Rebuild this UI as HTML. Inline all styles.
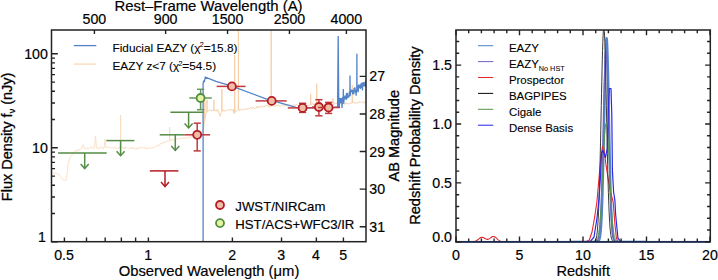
<!DOCTYPE html>
<html><head><meta charset="utf-8"><style>
html,body{margin:0;padding:0;background:#fff;}
svg{display:block;}
</style></head><body>
<svg width="718" height="280" viewBox="0 0 718 280">
<rect width="718" height="280" fill="#fff"/>
<defs><clipPath id="cl"><rect x="51.5" y="30.0" width="314.5" height="211.7"/></clipPath>
<clipPath id="cr"><rect x="456" y="30" width="254.3" height="211.7"/></clipPath></defs>
<g clip-path="url(#cl)"><polyline fill="none" stroke="#f9dcc1" stroke-width="0.9" points="51.5,173 52.3,173.05 53.1,173.11 53.9,173.16 54.7,173.21 55.5,173.27 56.3,173.42 57.1,173.74 57.9,174.06 58.7,174.38 59.5,175.2 60.3,176.32 61.1,177.44 61.9,178.53 62.7,179.6 63.5,180.08 64.3,180.22 65.1,180.35 65.9,180.48 66.7,176.65 67.5,169.5 68.3,163.03 69.1,160.43 69.9,157.83 70.7,156.05 71.5,155.72 72.3,154.34 73.1,153.85 73.9,152.9 74.7,151.11 75.5,150.49 76.3,151.8 77.1,150.03 77.9,149.48 78.7,150.74 79.5,149.18 80.3,149.59 81.1,148.45 81.7,148.5 83.2,144.5 84.7,148.5 85.1,148.55 85.9,149.03 86.7,148.88 87.5,147.54 88.3,148.99 89.1,148.43 89.9,147.59 90.7,146.79 91.5,148.43 92.3,147.46 93.1,148.05 93.9,148.45 94.5,147.72 95.5,136 96.5,147.72 97.1,148.48 97.9,147.75 98.7,148.88 99.5,148.8 100.3,147.11 101.1,147.2 101.9,147.38 102.7,149.02 103.5,147.86 104,148 105,139 106,148 106.7,147.41 107.5,147.17 108.3,147.53 109.1,147.37 109.9,147.91 110.7,147.47 111.5,148.09 112.3,148.01 113.1,148.39 113.9,147.77 114.7,146.73 115.5,148.32 116.3,148.58 117.1,148.49 117.9,147.79 118.7,148.14 119.5,147.07 120.3,148.48 120.4,147.76 120.6,115 120.8,147.76 121.1,147.95 121.9,147.35 122.7,146.9 123.5,148.68 124.3,149.01 125.1,147.07 125.9,148.67 126.7,147.85 127.5,147.32 128.3,147.67 129.1,148.75 129.9,149.02 130.7,147.19 131.5,148.44 132.3,147.18 133.1,148.65 133.9,147.79 134.7,148.99 135.5,149.2 136.3,148.15 137.1,149.23 137.9,147.7 138.7,147.18 139.5,148.32 140.3,147.07 141.1,147.42 141.9,147.88 142.7,148.32 143.5,147.31 144.3,147.05 145.1,148.86 145.9,147.63 146.7,149.04 147.5,148.9 148.3,147.75 149.1,147.92 149.9,148.05 150.7,148.18 151.5,147.91 152.3,147.67 153.1,147.64 153.9,148.19 154.7,147.08 155.5,146.6 156.3,146.83 157.1,145.37 157.9,145.11 158.7,146.2 159.5,144.8 160.3,144.48 161.1,142.94 161.9,143.48 162.7,143.49 163.5,141.91 164.3,142.87 165.1,142.56 165.9,140.95 166.7,141.85 167.5,141.14 168.3,141.33 169.1,140.45 169.5,140.65 169.7,127 169.9,141.06 169.9,140.65 170.7,140.96 171.5,139.22 172.3,139.14 173.1,140.32 173.9,140.79 174.7,139.06 175.5,139.34 176.3,139.47 177.1,138.71 177.9,138.64 178.7,138.36 179.5,138.32 180.3,138.68 181.1,137.95 181.9,138.04 182.7,138.83 183.5,137.11 184.3,138.22 185.1,138.51 185.9,137.49 186.7,137.22 187.5,138.42 188.3,137.1 189.1,136.9 189.9,137.37 190.7,137.8 191.5,136.32 192.3,136.65 193.1,136.51 193.9,137.45 194.7,136.42 195.5,137.18 196.3,135.51 197.1,135.72 197.9,136.25 198.7,136.61 199.5,135.49 200.3,134.6 201.1,133.57 201.9,133.67 202.7,131.12"/><polyline fill="none" stroke="#f5d0a8" stroke-width="0.95" points="202.7,131.12 203.5,127.67 204.3,123.09 204.6,119.6 204.8,101 205,119.6 205.1,117.25 205.9,113.06 206.7,112.8 206.8,111.75 207,99.8 207.2,111.75 207.5,111.44 208.3,111.17 209.1,110.16 209.9,109.69 210.7,110.04 211.5,111.15 212.3,110 213.1,110.16 213.7,110.5 213.9,99.8 214.1,110.5 214.7,110.32 215.5,110.3 216.3,111.43 217.1,109.74 217.9,109.41 218.7,112.93 219.5,114.46 220.3,116.36 221.1,112.17 221.7,110.48 221.9,89 222.1,110.48 222.7,111.39 223.5,109.8 224.3,110.92 225.1,111.08 225.9,110.67 226.7,110.32 227.5,109.78 228.3,109.85 229.1,109.57 229.9,109.18 230.7,110.3 231.5,109.6 232.3,110.71 233.1,109.31 233.9,113.66 234.5,112.67 234.7,55 234.9,112.67 235.5,110.93 236.3,110.87 237.1,110.88 237.9,110.17 238.2,110 238.4,25 238.6,110 238.7,108.93 239.5,110.54 240.3,109.23 241.1,109.38 241.9,110.04 242.7,109.6 243.5,109.23 244.3,110.25 245.1,109.4 245.9,108.67 246.7,108.34 247.5,109.55 248.3,108.57 249.1,109.1 249.9,108.02 250.7,107.55 251.5,108.16 252.3,108.65 253.1,107.09 253.9,108.33 254.7,108.48 255.5,108.12 256.3,108.08 257.1,106.21 257.9,107.49 258.7,107.93 259.5,106.06 260.3,106.47 261.1,106.38 261.9,106.87 262.7,106.56 263.5,106.59 264.3,107.18 265.1,105.4 265.9,105.48 266.7,105.59 267.5,105.55 268.3,105.39 269.1,107.34 269.9,107.03 270.7,105.3 271,106.19 271.2,25 271.4,106.19 271.5,106.18 272.3,105.73 273.1,105.69 273.9,105.73 274.7,106.34 275.5,106.17 276.3,105.63 277.1,105.22 277.9,105.48 278.7,104.99 279.5,105.9 280.3,106.21 281.1,105.43 281.9,104.73 282.7,104.91 283.5,105.3 284.3,105.76 285.1,106.12 285.9,105.21 286.7,106.11 287.5,105.69 288.3,105.24 289.1,105.08 289.9,105.33 290.7,105.76 291.5,105.11 292.3,105.68 293.1,105.14 293.9,104.64 294.7,105.26 295.5,105.58 296.3,104.18 297.1,104.93 297.9,104.91 298.7,105.88 299.5,105.98 300.3,104.72 301.1,105.85 301.9,105.59 302.7,104.41 303.5,104.83 304.3,104.06 305.1,105.56 305.9,105.21 306.7,105.68 307.5,105.46 308.3,105.16 309.1,105.29 309.9,104.89 310.5,104.73 310.7,94 310.9,104.73 311.5,104.91 312.3,103.6 313.1,103.89 313.9,105.26 314.7,103.63 315.5,103.71 316.3,103.71 316.5,104.58 316.7,83.6 316.9,104.58 317.1,105.41 317.9,103.85 318.7,103.48 319.5,105.26 320.3,103.65 321.1,105.21 321.9,104.81 322.7,105.13 323.5,105.36 324.3,104.5 325.1,104.95 325.9,103.24 326.7,104.82 327.5,104.22 328.3,104.64 329.1,103.27 329.9,104.65 330.7,105.03 331.5,103.07 332.3,103.62 332.8,103.98 333,98.5 333.2,103.98 333.9,104.67 334.7,103.34 335.5,103.18 336.3,103.3 337.1,104.07 337.9,104.34 338.7,103.52 339.5,103.43 340.3,103.46 341.1,103.33 341.9,103.44 342.7,102.68 343.5,103.56 344.3,104.57 345.1,103.3 345.9,103.98 346.7,102.64 347.5,103.75 348.3,103.84 349.1,103.61 349.9,103.21 350.7,103.08 351.5,103.38 352.1,103.01 352.3,85 352.5,103.01 353.1,102.19 353.9,102.02 354.7,103.4 355.5,103.72 356.3,102.78 357.1,102.57 357.9,103.12 358.7,101.9 359.5,102.02 360.3,101.81 361.1,102.6 361.9,101.93 362.7,101.69 363.5,102.63 364.3,103.14 365.1,101.63 365.9,102.46"/></g>
<g clip-path="url(#cl)"><polyline fill="none" stroke="#5283cb" stroke-width="1.3" stroke-linejoin="miter" stroke-miterlimit="2" points="203.1,245 203.1,84 203.6,80.5 204.3,82 205.3,77.1 216,81.4 231.9,86.1 266,98.8 296,107.4 320,107.8 334,107.5 337.6,107 338.2,36 338.8,108 339,100.87 339.3,107.75 339.6,101.8 339.9,98.52 340.2,98.18 340.5,103.17 340.8,100.22 341.1,98.08 341.4,101.09 341.7,100.55 342,107.89 342.3,101.92 342.6,97.13 342.9,97.97 343.2,98.98 343.3,89 343.4,98.98 343.2,96.93 343.2,98.76 343.3,89 343.4,98.76 343.5,99.65 343.8,103.85 344.1,95.51 344.4,99.27 344.7,96.71 345,97.38 345.3,99.35 345.6,95.61 345.9,97.19 346.2,98.28 346.4,96.6 346.5,93 346.6,96.6 346.5,99.67 346.8,95.86 347.1,93.94 347.4,93 347.7,97.43 348,97.92 348.3,96.55 348.6,95.6 348.9,97.05 349.2,94.49 349.5,91.63 349.9,94.22 350,75.6 350.1,94.22 349.8,95.17 349.9,94.01 350,75.6 350.1,94.01 350.1,96.07 350.4,93.06 350.7,90.52 351,91.24 351.3,90.32 351.6,90.56 351.9,92.01 352.2,89.81 352.5,92.6 352.8,94.11 353.1,90.43 353.4,90.73 353.7,94.35 354,89.13 354.3,89.28 354.6,91.34 354.9,87.38 355.2,89.5 355.5,93.02 355.8,90 356.1,95.82 356.4,92.03 356.8,89.26 356.9,53.8 357,89.26 356.7,91.65 356.8,89.04 356.9,53.8 357,89.04 357,88.35 357.3,86.29 357.6,90.81 357.9,86.53 358.2,92.15 358.5,84.76 358.8,85.19 359.1,84.49 359.4,88.04 359.7,85.51 360,86.01 360.3,88.9 360.6,86.23 360.9,83.58 361.2,85.01 361.5,87.9 361.8,82.53 362.1,85.55 362.4,90.43 362.7,85.12 363,87.05 363.3,82.98 363.6,82.16 363.9,84.28 364.2,82.77 364.5,85.63 364.8,85.68 365.1,85.25 365.4,81.24 365.7,86.85 366,79.54 366.3,80.8 366.6,85.05 366.9,84.71"/></g>
<g stroke="#558d45" stroke-width="1.5" fill="none"><line x1="58.1" y1="152.9" x2="106.7" y2="152.9"/><line x1="84.7" y1="152.9" x2="84.7" y2="168.5"/><polyline points="80.7,164 84.7,168.5 88.7,164"/></g>
<g stroke="#558d45" stroke-width="1.5" fill="none"><line x1="106.3" y1="140.6" x2="134.3" y2="140.6"/><line x1="120.6" y1="140.6" x2="120.6" y2="155.7"/><polyline points="116.6,151.2 120.6,155.7 124.6,151.2"/></g>
<g stroke="#558d45" stroke-width="1.5" fill="none"><line x1="159.7" y1="134.8" x2="184.3" y2="134.8"/><line x1="175.3" y1="134.8" x2="175.3" y2="150.4"/><polyline points="171.3,145.9 175.3,150.4 179.3,145.9"/></g>
<g stroke="#558d45" stroke-width="1.5" fill="none"><line x1="170.4" y1="112.2" x2="203.6" y2="112.2"/><line x1="188.6" y1="112.2" x2="188.6" y2="127.9"/><polyline points="184.6,123.4 188.6,127.9 192.6,123.4"/></g>
<g stroke="#b51d25" stroke-width="1.5" fill="none"><line x1="149.8" y1="170.9" x2="178.4" y2="170.9"/><line x1="165.0" y1="170.9" x2="165.0" y2="186.6"/><polyline points="161,182.1 165.0,186.6 169,182.1"/></g>
<g stroke="#64985a" stroke-width="1.5" fill="none"><line x1="189.3" y1="98.0" x2="211.8" y2="98.0"/><line x1="200.6" y1="89.3" x2="200.6" y2="109.7"/><line x1="197.0" y1="89.3" x2="204.2" y2="89.3"/><line x1="197.0" y1="109.7" x2="204.2" y2="109.7"/><circle cx="200.6" cy="98.0" r="4.0" fill="#e4f4a2" stroke="#558d45" stroke-width="1.8"/></g>
<g stroke="#c03a40" stroke-width="1.5" fill="none"><line x1="184.3" y1="134.8" x2="210.1" y2="134.8"/><line x1="197.2" y1="123.2" x2="197.2" y2="150.9"/><line x1="193.6" y1="123.2" x2="200.79999999999998" y2="123.2"/><line x1="193.6" y1="150.9" x2="200.79999999999998" y2="150.9"/><circle cx="197.2" cy="134.8" r="4.0" fill="#f0bea6" stroke="#b51d25" stroke-width="1.8"/></g>
<g stroke="#c03a40" stroke-width="1.5" fill="none"><line x1="216.6" y1="86.4" x2="245.6" y2="86.4"/><circle cx="231.9" cy="86.4" r="4.0" fill="#f0bea6" stroke="#b51d25" stroke-width="1.8"/></g>
<g stroke="#c03a40" stroke-width="1.5" fill="none"><line x1="255.6" y1="100.9" x2="286.7" y2="100.9"/><circle cx="271.7" cy="100.9" r="4.0" fill="#f0bea6" stroke="#b51d25" stroke-width="1.8"/></g>
<g stroke="#c03a40" stroke-width="1.5" fill="none"><line x1="287.8" y1="107.9" x2="317.0" y2="107.9"/><line x1="302.6" y1="103.3" x2="302.6" y2="112.4"/><line x1="299.0" y1="103.3" x2="306.20000000000005" y2="103.3"/><line x1="299.0" y1="112.4" x2="306.20000000000005" y2="112.4"/><circle cx="302.6" cy="107.9" r="4.0" fill="#f0bea6" stroke="#b51d25" stroke-width="1.8"/></g>
<g stroke="#c03a40" stroke-width="1.5" fill="none"><line x1="312.0" y1="107.0" x2="326.0" y2="107.0"/><line x1="318.9" y1="99.7" x2="318.9" y2="115.8"/><line x1="315.29999999999995" y1="99.7" x2="322.5" y2="99.7"/><line x1="315.29999999999995" y1="115.8" x2="322.5" y2="115.8"/><circle cx="318.9" cy="107.0" r="4.0" fill="#f0bea6" stroke="#b51d25" stroke-width="1.8"/></g>
<g stroke="#c03a40" stroke-width="1.5" fill="none"><line x1="318.0" y1="107.5" x2="340.0" y2="107.5"/><line x1="328.6" y1="102.4" x2="328.6" y2="113.4"/><line x1="325.0" y1="102.4" x2="332.20000000000005" y2="102.4"/><line x1="325.0" y1="113.4" x2="332.20000000000005" y2="113.4"/><circle cx="328.6" cy="107.5" r="4.0" fill="#f0bea6" stroke="#b51d25" stroke-width="1.8"/></g>
<rect x="51.5" y="30.0" width="314.5" height="211.7" fill="none" stroke="#222" stroke-width="1.5"/>
<path d="M51.5 241.8h6.3 M51.5 213.5h3.5 M51.5 196.95h3.5 M51.5 185.21h3.5 M51.5 176.1h3.5 M51.5 168.65h3.5 M51.5 162.36h3.5 M51.5 156.91h3.5 M51.5 152.1h3.5 M51.5 147.8h6.3 M51.5 119.5h3.5 M51.5 102.95h3.5 M51.5 91.21h3.5 M51.5 82.1h3.5 M51.5 74.65h3.5 M51.5 68.36h3.5 M51.5 62.91h3.5 M51.5 58.1h3.5 M51.5 53.8h6.3 M64.41 241.7v-4.2 M86.5 241.7v-4.2 M105.18 241.7v-4.2 M121.36 241.7v-4.2 M135.63 241.7v-4.2 M148.4 241.7v-4.2 M232.39 241.7v-4.2 M281.52 241.7v-4.2 M316.37 241.7v-4.2 M343.41 241.7v-4.2 M94.42 30.0v4 M165.64 30.0v4 M227.54 30.0v4 M289.43 30.0v4 M346.38 30.0v4 M366.0 76.36h-6.3 M366.0 113.96h-6.3 M366.0 151.56h-6.3 M366.0 189.16h-6.3 M366.0 226.76h-6.3" stroke="#222" stroke-width="1.4" fill="none"/>
<text x="47.9" y="59" font-size="14.2" text-anchor="end" font-family="Liberation Sans, sans-serif" stroke="#000" stroke-width="0.18" >100</text>
<text x="47.9" y="153" font-size="14.2" text-anchor="end" font-family="Liberation Sans, sans-serif" stroke="#000" stroke-width="0.18" >10</text>
<text x="46" y="241.7" font-size="14.2" text-anchor="end" font-family="Liberation Sans, sans-serif" stroke="#000" stroke-width="0.18" >1</text>
<text x="64.11" y="260.1" font-size="14.2" text-anchor="middle" font-family="Liberation Sans, sans-serif" stroke="#000" stroke-width="0.18" >0.5</text>
<text x="148.1" y="260.1" font-size="14.2" text-anchor="middle" font-family="Liberation Sans, sans-serif" stroke="#000" stroke-width="0.18" >1</text>
<text x="232.09" y="260.1" font-size="14.2" text-anchor="middle" font-family="Liberation Sans, sans-serif" stroke="#000" stroke-width="0.18" >2</text>
<text x="281.22" y="260.1" font-size="14.2" text-anchor="middle" font-family="Liberation Sans, sans-serif" stroke="#000" stroke-width="0.18" >3</text>
<text x="316.07" y="260.1" font-size="14.2" text-anchor="middle" font-family="Liberation Sans, sans-serif" stroke="#000" stroke-width="0.18" >4</text>
<text x="343.11" y="260.1" font-size="14.2" text-anchor="middle" font-family="Liberation Sans, sans-serif" stroke="#000" stroke-width="0.18" >5</text>
<text x="209" y="275.7" font-size="14.8" text-anchor="middle" font-family="Liberation Sans, sans-serif" stroke="#000" stroke-width="0.18" >Observed Wavelength (&#956;m)</text>
<text x="94.42" y="24" font-size="14.2" text-anchor="middle" font-family="Liberation Sans, sans-serif" stroke="#000" stroke-width="0.18" >500</text>
<text x="165.64" y="24" font-size="14.2" text-anchor="middle" font-family="Liberation Sans, sans-serif" stroke="#000" stroke-width="0.18" >900</text>
<text x="227.54" y="24" font-size="14.2" text-anchor="middle" font-family="Liberation Sans, sans-serif" stroke="#000" stroke-width="0.18" >1500</text>
<text x="289.43" y="24" font-size="14.2" text-anchor="middle" font-family="Liberation Sans, sans-serif" stroke="#000" stroke-width="0.18" >2500</text>
<text x="346.38" y="24" font-size="14.2" text-anchor="middle" font-family="Liberation Sans, sans-serif" stroke="#000" stroke-width="0.18" >4000</text>
<text x="208.5" y="11.3" font-size="14.9" text-anchor="middle" font-family="Liberation Sans, sans-serif" stroke="#000" stroke-width="0.18" >Rest&#8211;Frame Wavelength (A)</text>
<text x="369.3" y="81.36" font-size="14.2" text-anchor="start" font-family="Liberation Sans, sans-serif" stroke="#000" stroke-width="0.18" >27</text>
<text x="369.3" y="118.96" font-size="14.2" text-anchor="start" font-family="Liberation Sans, sans-serif" stroke="#000" stroke-width="0.18" >28</text>
<text x="369.3" y="156.56" font-size="14.2" text-anchor="start" font-family="Liberation Sans, sans-serif" stroke="#000" stroke-width="0.18" >29</text>
<text x="369.3" y="194.16" font-size="14.2" text-anchor="start" font-family="Liberation Sans, sans-serif" stroke="#000" stroke-width="0.18" >30</text>
<text x="369.3" y="231.76" font-size="14.2" text-anchor="start" font-family="Liberation Sans, sans-serif" stroke="#000" stroke-width="0.18" >31</text>
<text transform="translate(11.8,201.2) rotate(-90)" font-size="14.5" font-family="Liberation Sans, sans-serif" stroke="#000" stroke-width="0.3">Flux Density f<tspan font-size="9" dy="3">&#957;</tspan><tspan dy="-3"> (nJy)</tspan></text>
<text transform="translate(399.0,181.6) rotate(-90)" font-size="14.6" font-family="Liberation Sans, sans-serif" stroke="#000" stroke-width="0.3">AB Magnitude</text>
<text transform="translate(419.8,224.8) rotate(-90)" font-size="14.6" font-family="Liberation Sans, sans-serif" stroke="#000" stroke-width="0.3">Redshift Probability Density</text>
<line x1="73.8" y1="45.6" x2="96.3" y2="45.6" stroke="#5283cb" stroke-width="1.3"/>
<line x1="73.8" y1="64.1" x2="96.3" y2="64.1" stroke="#f8dbbd" stroke-width="1.4"/>
<text x="112.5" y="51.8" font-size="11.8" font-family="Liberation Sans, sans-serif" stroke="#000" stroke-width="0.1">Fiducial EAZY (&#967;<tspan font-size="7.2" dy="-4.6" dx="-0.6" stroke-width="0.05">2</tspan><tspan dy="4.6" dx="-0.2">=15.8)</tspan></text>
<text x="112.5" y="70.2" font-size="11.8" font-family="Liberation Sans, sans-serif" stroke="#000" stroke-width="0.1">EAZY z&lt;7 (&#967;<tspan font-size="7.2" dy="-4.6" dx="-0.6" stroke-width="0.05">2</tspan><tspan dy="4.6" dx="-0.2">=54.5)</tspan></text>
<circle cx="220" cy="205" r="4.0" fill="#f0bea6" stroke="#b51d25" stroke-width="1.8"/>
<circle cx="220" cy="223.1" r="4.0" fill="#e4f4a2" stroke="#558d45" stroke-width="1.8"/>
<text x="235.3" y="210.9" font-size="13.2" text-anchor="start" font-family="Liberation Sans, sans-serif" stroke="#000" stroke-width="0.15" >JWST/NIRCam</text>
<text x="235.3" y="229" font-size="13.2" text-anchor="start" font-family="Liberation Sans, sans-serif" stroke="#000" stroke-width="0.15" >HST/ACS+WFC3/IR</text>
<g clip-path="url(#cr)">
<polyline fill="none" stroke="#5283cb" stroke-width="2.2" stroke-linejoin="round" points="570.3,241.8 570.55,241.8 570.81,241.8 571.06,241.8 571.32,241.8 571.57,241.8 571.82,241.8 572.08,241.8 572.33,241.8 572.59,241.8 572.84,241.8 573.09,241.8 573.35,241.8 573.6,241.8 573.86,241.8 574.11,241.8 574.36,241.8 574.62,241.8 574.87,241.8 575.13,241.8 575.38,241.8 575.63,241.8 575.89,241.8 576.14,241.8 576.4,241.8 576.65,241.8 576.9,241.8 577.16,241.8 577.41,241.8 577.67,241.8 577.92,241.8 578.17,241.8 578.43,241.8 578.68,241.8 578.94,241.8 579.19,241.8 579.44,241.8 579.7,241.8 579.95,241.8 580.21,241.8 580.46,241.8 580.71,241.8 580.97,241.8 581.22,241.8 581.48,241.8 581.73,241.8 581.98,241.8 582.24,241.8 582.49,241.8 582.75,241.8 583,241.8 583.25,241.8 583.51,241.8 583.76,241.8 584.02,241.8 584.27,241.8 584.52,241.8 584.78,241.8 585.03,241.8 585.29,241.8 585.54,241.8 585.79,241.8 586.05,241.8 586.3,241.8 586.56,241.8 586.81,241.8 587.06,241.8 587.32,241.8 587.57,241.8 587.83,241.8 588.08,241.8 588.33,241.8 588.59,241.8 588.84,241.8 589.1,241.8 589.35,241.8 589.6,241.8 589.86,241.8 590.11,241.8 590.37,241.8 590.62,241.8 590.87,241.8 591.13,241.8 591.38,241.8 591.64,241.8 591.89,241.8 592.14,241.8 592.4,241.8 592.65,241.8 592.91,241.8 593.16,241.8 593.41,241.8 593.67,241.8 593.92,241.8 594.18,241.8 594.43,241.8 594.68,241.8 594.94,241.8 595.19,241.8 595.45,241.8 595.7,241.79 595.95,241.79 596.21,241.78 596.46,241.77 596.72,241.76 596.97,241.73 597.22,241.7 597.48,241.64 597.73,241.57 597.99,241.46 598.24,241.31 598.49,241.1 598.75,240.81 599,240.41 599.26,239.87 599.51,239.15 599.76,238.21 600.02,236.98 600.27,235.41 600.53,233.42 600.78,230.93 601.03,227.85 601.29,224.09 601.54,219.58 601.8,214.22 602.05,207.94 602.3,200.7 602.56,192.46 602.81,183.21 603.07,173 603.32,161.9 603.57,150.03 603.83,137.55 604.08,124.69 604.34,111.69 604.59,98.84 604.84,86.46 605.1,74.86 605.35,64.36 605.61,55.29 605.86,47.92 606.11,42.47 606.37,39.13 606.62,38.01 606.88,39.13 607.13,42.47 607.38,47.92 607.64,55.29 607.89,64.36 608.15,74.86 608.4,86.46 608.65,98.84 608.91,111.69 609.16,124.69 609.42,137.55 609.67,150.03 609.92,161.9 610.18,173 610.43,183.21 610.69,192.46 610.94,200.7 611.19,207.94 611.45,214.22 611.7,219.58 611.96,224.09 612.21,227.85 612.46,230.93 612.72,233.42 612.97,235.41 613.23,236.98 613.48,238.21 613.73,239.15 613.99,239.87 614.24,240.41 614.5,240.81 614.75,241.1 615,241.31 615.26,241.46 615.51,241.57 615.77,241.64 616.02,241.7 616.27,241.73 616.53,241.76 616.78,241.77 617.04,241.78 617.29,241.79 617.54,241.79 617.8,241.8 618.05,241.8 618.31,241.8 618.56,241.8 618.81,241.8 619.07,241.8 619.32,241.8 619.58,241.8 619.83,241.8 620.08,241.8 620.34,241.8 620.59,241.8 620.85,241.8 621.1,241.8 621.35,241.8 621.61,241.8 621.86,241.8 622.12,241.8 622.37,241.8 622.62,241.8 622.88,241.8 623.13,241.8 623.39,241.8 623.64,241.8 623.89,241.8 624.15,241.8 624.4,241.8 624.66,241.8 624.91,241.8 625.16,241.8 625.42,241.8 625.67,241.8 625.93,241.8 626.18,241.8 626.43,241.8 626.69,241.8 626.94,241.8 627.2,241.8 627.45,241.8 627.7,241.8 627.96,241.8 628.21,241.8 628.47,241.8 628.72,241.8 628.97,241.8 629.23,241.8 629.48,241.8 629.74,241.8 629.99,241.8 630.24,241.8 630.5,241.8 630.75,241.8 631.01,241.8 631.26,241.8 631.51,241.8 631.77,241.8 632.02,241.8 632.28,241.8 632.53,241.8 632.78,241.8 633.04,241.8 633.29,241.8 633.55,241.8 633.8,241.8 634.05,241.8 634.31,241.8 634.56,241.8 634.82,241.8 635.07,241.8 635.32,241.8 635.58,241.8 635.83,241.8 636.09,241.8 636.34,241.8 636.59,241.8 636.85,241.8 637.1,241.8 637.36,241.8 637.61,241.8 637.86,241.8 638.12,241.8 638.37,241.8 638.63,241.8 638.88,241.8 639.13,241.8 639.39,241.8 639.64,241.8 639.9,241.8 640.15,241.8 640.4,241.8 640.66,241.8 640.91,241.8 641.17,241.8 641.42,241.8 641.67,241.8 641.93,241.8 642.18,241.8 642.44,241.8 642.69,241.8 642.94,241.8 643.2,241.8 643.45,241.8 643.71,241.8 643.96,241.8 644.21,241.8 644.47,241.8 644.72,241.8 644.98,241.8 645.23,241.8 645.48,241.8 645.74,241.8 645.99,241.8 646.25,241.8 646.5,241.8"/>
<polyline fill="none" stroke="#7068c0" stroke-width="1.2" stroke-linejoin="round" points="570.3,241.8 570.55,241.8 570.81,241.8 571.06,241.8 571.32,241.8 571.57,241.8 571.82,241.8 572.08,241.8 572.33,241.8 572.59,241.8 572.84,241.8 573.09,241.8 573.35,241.8 573.6,241.8 573.86,241.8 574.11,241.8 574.36,241.8 574.62,241.8 574.87,241.8 575.13,241.8 575.38,241.8 575.63,241.8 575.89,241.8 576.14,241.8 576.4,241.8 576.65,241.8 576.9,241.8 577.16,241.8 577.41,241.8 577.67,241.8 577.92,241.8 578.17,241.8 578.43,241.8 578.68,241.8 578.94,241.8 579.19,241.8 579.44,241.8 579.7,241.8 579.95,241.8 580.21,241.8 580.46,241.8 580.71,241.8 580.97,241.8 581.22,241.8 581.48,241.8 581.73,241.8 581.98,241.8 582.24,241.8 582.49,241.8 582.75,241.8 583,241.8 583.25,241.8 583.51,241.8 583.76,241.8 584.02,241.8 584.27,241.8 584.52,241.8 584.78,241.8 585.03,241.8 585.29,241.8 585.54,241.8 585.79,241.8 586.05,241.8 586.3,241.8 586.56,241.8 586.81,241.8 587.06,241.8 587.32,241.8 587.57,241.8 587.83,241.8 588.08,241.8 588.33,241.8 588.59,241.8 588.84,241.8 589.1,241.8 589.35,241.8 589.6,241.8 589.86,241.8 590.11,241.8 590.37,241.8 590.62,241.8 590.87,241.8 591.13,241.8 591.38,241.8 591.64,241.8 591.89,241.8 592.14,241.8 592.4,241.8 592.65,241.8 592.91,241.8 593.16,241.8 593.41,241.8 593.67,241.79 593.92,241.79 594.18,241.79 594.43,241.78 594.68,241.77 594.94,241.76 595.19,241.74 595.45,241.71 595.7,241.67 595.95,241.61 596.21,241.53 596.46,241.42 596.72,241.27 596.97,241.06 597.22,240.79 597.48,240.43 597.73,239.96 597.99,239.36 598.24,238.58 598.49,237.59 598.75,236.35 599,234.8 599.26,232.9 599.51,230.59 599.76,227.8 600.02,224.47 600.27,220.55 600.53,215.97 600.78,210.7 601.03,204.68 601.29,197.9 601.54,190.34 601.8,182.04 602.05,173.01 602.3,163.34 602.56,153.13 602.81,142.48 603.07,131.56 603.32,120.54 603.57,109.63 603.83,99.04 604.08,88.99 604.34,79.71 604.59,71.42 604.84,64.32 605.1,58.6 605.35,54.39 605.61,51.83 605.86,50.96 606.11,51.83 606.37,54.39 606.62,58.6 606.88,64.32 607.13,71.42 607.38,79.71 607.64,88.99 607.89,99.04 608.15,109.63 608.4,120.54 608.65,131.56 608.91,142.48 609.16,153.13 609.42,163.34 609.67,173.01 609.92,182.04 610.18,190.34 610.43,197.9 610.69,204.68 610.94,210.7 611.19,215.97 611.45,220.55 611.7,224.47 611.96,227.8 612.21,230.59 612.46,232.9 612.72,234.8 612.97,236.35 613.23,237.59 613.48,238.58 613.73,239.36 613.99,239.96 614.24,240.43 614.5,240.79 614.75,241.06 615,241.27 615.26,241.42 615.51,241.53 615.77,241.61 616.02,241.67 616.27,241.71 616.53,241.74 616.78,241.76 617.04,241.77 617.29,241.78 617.54,241.79 617.8,241.79 618.05,241.79 618.31,241.8 618.56,241.8 618.81,241.8 619.07,241.8 619.32,241.8 619.58,241.8 619.83,241.8 620.08,241.8 620.34,241.8 620.59,241.8 620.85,241.8 621.1,241.8 621.35,241.8 621.61,241.8 621.86,241.8 622.12,241.8 622.37,241.8 622.62,241.8 622.88,241.8 623.13,241.8 623.39,241.8 623.64,241.8 623.89,241.8 624.15,241.8 624.4,241.8 624.66,241.8 624.91,241.8 625.16,241.8 625.42,241.8 625.67,241.8 625.93,241.8 626.18,241.8 626.43,241.8 626.69,241.8 626.94,241.8 627.2,241.8 627.45,241.8 627.7,241.8 627.96,241.8 628.21,241.8 628.47,241.8 628.72,241.8 628.97,241.8 629.23,241.8 629.48,241.8 629.74,241.8 629.99,241.8 630.24,241.8 630.5,241.8 630.75,241.8 631.01,241.8 631.26,241.8 631.51,241.8 631.77,241.8 632.02,241.8 632.28,241.8 632.53,241.8 632.78,241.8 633.04,241.8 633.29,241.8 633.55,241.8 633.8,241.8 634.05,241.8 634.31,241.8 634.56,241.8 634.82,241.8 635.07,241.8 635.32,241.8 635.58,241.8 635.83,241.8 636.09,241.8 636.34,241.8 636.59,241.8 636.85,241.8 637.1,241.8 637.36,241.8 637.61,241.8 637.86,241.8 638.12,241.8 638.37,241.8 638.63,241.8 638.88,241.8 639.13,241.8 639.39,241.8 639.64,241.8 639.9,241.8 640.15,241.8 640.4,241.8 640.66,241.8 640.91,241.8 641.17,241.8 641.42,241.8 641.67,241.8 641.93,241.8 642.18,241.8 642.44,241.8 642.69,241.8 642.94,241.8 643.2,241.8 643.45,241.8 643.71,241.8 643.96,241.8 644.21,241.8 644.47,241.8 644.72,241.8 644.98,241.8 645.23,241.8 645.48,241.8 645.74,241.8 645.99,241.8 646.25,241.8 646.5,241.8"/>
<polyline fill="none" stroke="#e8262a" stroke-width="1.1" stroke-linejoin="round" points="456,241.8 456.38,241.8 456.76,241.8 457.14,241.8 457.52,241.8 457.9,241.8 458.29,241.8 458.67,241.8 459.05,241.8 459.43,241.8 459.81,241.8 460.19,241.8 460.57,241.8 460.95,241.8 461.33,241.8 461.71,241.8 462.1,241.8 462.48,241.8 462.86,241.8 463.24,241.8 463.62,241.8 464,241.8 464.38,241.8 464.76,241.8 465.14,241.8 465.52,241.8 465.91,241.8 466.29,241.8 466.67,241.8 467.05,241.8 467.43,241.8 467.81,241.8 468.19,241.8 468.57,241.8 468.95,241.8 469.33,241.8 469.72,241.79 470.1,241.79 470.48,241.78 470.86,241.78 471.24,241.77 471.62,241.76 472,241.74 472.38,241.71 472.76,241.68 473.14,241.64 473.53,241.59 473.91,241.53 474.29,241.45 474.67,241.35 475.05,241.24 475.43,241.1 475.81,240.94 476.19,240.75 476.57,240.54 476.95,240.31 477.34,240.05 477.72,239.77 478.1,239.48 478.48,239.19 478.86,238.88 479.24,238.59 479.62,238.3 480,238.04 480.38,237.81 480.76,237.61 481.15,237.46 481.53,237.36 481.91,237.31 482.29,237.31 482.67,237.36 483.05,237.46 483.43,237.61 483.81,237.79 484.19,237.99 484.57,238.21 484.96,238.44 485.34,238.67 485.72,238.87 486.1,239.05 486.48,239.2 486.86,239.31 487.24,239.37 487.62,239.37 488,239.32 488.38,239.22 488.77,239.08 489.15,238.88 489.53,238.65 489.91,238.38 490.29,238.1 490.67,237.81 491.05,237.52 491.43,237.25 491.81,237 492.19,236.79 492.58,236.63 492.96,236.53 493.34,236.48 493.72,236.5 494.1,236.58 494.48,236.72 494.86,236.92 495.24,237.16 495.62,237.45 496,237.77 496.39,238.11 496.77,238.47 497.15,238.82 497.53,239.17 497.91,239.51 498.29,239.83 498.67,240.13 499.05,240.39 499.43,240.63 499.81,240.85 500.2,241.03 500.58,241.18 500.96,241.31 501.34,241.42 501.72,241.51 502.1,241.58 502.48,241.63 502.86,241.68 503.24,241.71 503.62,241.73 504.01,241.75 504.39,241.77 504.77,241.78 505.15,241.78 505.53,241.79 505.91,241.79 506.29,241.8 506.67,241.8 507.05,241.8 507.44,241.8 507.82,241.8 508.2,241.8 508.58,241.8 508.96,241.8 509.34,241.8 509.72,241.8 510.1,241.8 510.48,241.8 510.86,241.8 511.25,241.8 511.63,241.8 512.01,241.8 512.39,241.8 512.77,241.8 513.15,241.8 513.53,241.8 513.91,241.8 514.29,241.8 514.67,241.8 515.05,241.8 515.44,241.8 515.82,241.8 516.2,241.8 516.58,241.8 516.96,241.8 517.34,241.8 517.72,241.8 518.1,241.8 518.48,241.8 518.87,241.8 519.25,241.8 519.63,241.8 520.01,241.8 520.39,241.8 520.77,241.8 521.15,241.8 521.53,241.8 521.91,241.8 522.29,241.8 522.67,241.8 523.06,241.8 523.44,241.8 523.82,241.8 524.2,241.8 524.58,241.8 524.96,241.8 525.34,241.8 525.72,241.8 526.1,241.8 526.49,241.8 526.87,241.8 527.25,241.8 527.63,241.8 528.01,241.8 528.39,241.8 528.77,241.8 529.15,241.8 529.53,241.8 529.91,241.8 530.29,241.8 530.68,241.8 531.06,241.8 531.44,241.8 531.82,241.8 532.2,241.8 532.58,241.8 532.96,241.8 533.34,241.8 533.72,241.8 534.11,241.8 534.49,241.8 534.87,241.8 535.25,241.8 535.63,241.8 536.01,241.8 536.39,241.8 536.77,241.8 537.15,241.8 537.53,241.8 537.91,241.8 538.3,241.8 538.68,241.8 539.06,241.8 539.44,241.8 539.82,241.8 540.2,241.8 540.58,241.8 540.96,241.8 541.34,241.8 541.73,241.8 542.11,241.8 542.49,241.8 542.87,241.8 543.25,241.8 543.63,241.8 544.01,241.8 544.39,241.8 544.77,241.8 545.15,241.8 545.53,241.8 545.92,241.8 546.3,241.8 546.68,241.8 547.06,241.8 547.44,241.8 547.82,241.8 548.2,241.8 548.58,241.8 548.96,241.8 549.35,241.8 549.73,241.8 550.11,241.8 550.49,241.8 550.87,241.8 551.25,241.8 551.63,241.8 552.01,241.8 552.39,241.8 552.77,241.8 553.15,241.8 553.54,241.8 553.92,241.8 554.3,241.8 554.68,241.8 555.06,241.8 555.44,241.8 555.82,241.8 556.2,241.8 556.58,241.8 556.97,241.8 557.35,241.8 557.73,241.8 558.11,241.8 558.49,241.8 558.87,241.8 559.25,241.8 559.63,241.8 560.01,241.8 560.39,241.8 560.77,241.8 561.16,241.8 561.54,241.8 561.92,241.8 562.3,241.8 562.68,241.8 563.06,241.8 563.44,241.8 563.82,241.8 564.2,241.8 564.59,241.8 564.97,241.8 565.35,241.8 565.73,241.8 566.11,241.8 566.49,241.8 566.87,241.8 567.25,241.8 567.63,241.8 568.01,241.8 568.39,241.8 568.78,241.8 569.16,241.8 569.54,241.8 569.92,241.8 570.3,241.8"/>
<polyline fill="none" stroke="#e8262a" stroke-width="1.1" stroke-linejoin="round" points="560,241.8 586,241.8 589.3,240 592,232 594.5,218 596.9,202 599,178 601,156 602.5,146.5 604,148.5 606,165 608.75,182.5 611,194 613.2,202 615,225 616.4,238 618,241.8 710,241.8"/>
<polyline fill="none" stroke="#3a3a3a" stroke-width="1.0" stroke-linejoin="round" points="570.3,241.8 570.55,241.8 570.81,241.8 571.06,241.8 571.32,241.8 571.57,241.8 571.82,241.8 572.08,241.8 572.33,241.8 572.59,241.8 572.84,241.8 573.09,241.8 573.35,241.8 573.6,241.8 573.86,241.8 574.11,241.8 574.36,241.8 574.62,241.8 574.87,241.8 575.13,241.8 575.38,241.8 575.63,241.8 575.89,241.8 576.14,241.8 576.4,241.8 576.65,241.8 576.9,241.8 577.16,241.8 577.41,241.8 577.67,241.8 577.92,241.8 578.17,241.8 578.43,241.8 578.68,241.8 578.94,241.8 579.19,241.8 579.44,241.8 579.7,241.8 579.95,241.8 580.21,241.8 580.46,241.8 580.71,241.8 580.97,241.8 581.22,241.8 581.48,241.8 581.73,241.8 581.98,241.8 582.24,241.8 582.49,241.8 582.75,241.8 583,241.8 583.25,241.8 583.51,241.8 583.76,241.8 584.02,241.8 584.27,241.8 584.52,241.8 584.78,241.8 585.03,241.8 585.29,241.8 585.54,241.8 585.79,241.8 586.05,241.8 586.3,241.8 586.56,241.8 586.81,241.8 587.06,241.8 587.32,241.8 587.57,241.8 587.83,241.8 588.08,241.8 588.33,241.8 588.59,241.8 588.84,241.8 589.1,241.8 589.35,241.8 589.6,241.8 589.86,241.8 590.11,241.8 590.37,241.8 590.62,241.8 590.87,241.8 591.13,241.8 591.38,241.8 591.64,241.79 591.89,241.79 592.14,241.79 592.4,241.78 592.65,241.77 592.91,241.75 593.16,241.73 593.41,241.7 593.67,241.65 593.92,241.58 594.18,241.49 594.43,241.37 594.68,241.2 594.94,240.97 595.19,240.67 595.45,240.26 595.7,239.74 595.95,239.06 596.21,238.18 596.46,237.07 596.72,235.68 596.97,233.94 597.22,231.81 597.48,229.2 597.73,226.07 597.99,222.33 598.24,217.93 598.49,212.78 598.75,206.86 599,200.09 599.26,192.47 599.51,183.99 599.76,174.66 600.02,164.52 600.27,153.66 600.53,142.18 600.78,130.22 601.03,117.95 601.29,105.57 601.54,93.32 601.8,81.42 602.05,70.13 602.3,59.7 602.56,50.38 602.81,42.41 603.07,35.98 603.32,31.26 603.57,28.37 603.83,27.4 604.08,28.37 604.34,31.26 604.59,35.98 604.84,42.41 605.1,50.38 605.35,59.7 605.61,70.13 605.86,81.42 606.11,93.32 606.37,105.57 606.62,117.95 606.88,130.22 607.13,142.18 607.38,153.66 607.64,164.52 607.89,174.66 608.15,183.99 608.4,192.47 608.65,200.09 608.91,206.86 609.16,212.78 609.42,217.93 609.67,222.33 609.92,226.07 610.18,229.2 610.43,231.81 610.69,233.94 610.94,235.68 611.19,237.07 611.45,238.18 611.7,239.06 611.96,239.74 612.21,240.26 612.46,240.67 612.72,240.97 612.97,241.2 613.23,241.37 613.48,241.49 613.73,241.58 613.99,241.65 614.24,241.7 614.5,241.73 614.75,241.75 615,241.77 615.26,241.78 615.51,241.79 615.77,241.79 616.02,241.79 616.27,241.8 616.53,241.8 616.78,241.8 617.04,241.8 617.29,241.8 617.54,241.8 617.8,241.8 618.05,241.8 618.31,241.8 618.56,241.8 618.81,241.8 619.07,241.8 619.32,241.8 619.58,241.8 619.83,241.8 620.08,241.8 620.34,241.8 620.59,241.8 620.85,241.8 621.1,241.8 621.35,241.8 621.61,241.8 621.86,241.8 622.12,241.8 622.37,241.8 622.62,241.8 622.88,241.8 623.13,241.8 623.39,241.8 623.64,241.8 623.89,241.8 624.15,241.8 624.4,241.8 624.66,241.8 624.91,241.8 625.16,241.8 625.42,241.8 625.67,241.8 625.93,241.8 626.18,241.8 626.43,241.8 626.69,241.8 626.94,241.8 627.2,241.8 627.45,241.8 627.7,241.8 627.96,241.8 628.21,241.8 628.47,241.8 628.72,241.8 628.97,241.8 629.23,241.8 629.48,241.8 629.74,241.8 629.99,241.8 630.24,241.8 630.5,241.8 630.75,241.8 631.01,241.8 631.26,241.8 631.51,241.8 631.77,241.8 632.02,241.8 632.28,241.8 632.53,241.8 632.78,241.8 633.04,241.8 633.29,241.8 633.55,241.8 633.8,241.8 634.05,241.8 634.31,241.8 634.56,241.8 634.82,241.8 635.07,241.8 635.32,241.8 635.58,241.8 635.83,241.8 636.09,241.8 636.34,241.8 636.59,241.8 636.85,241.8 637.1,241.8 637.36,241.8 637.61,241.8 637.86,241.8 638.12,241.8 638.37,241.8 638.63,241.8 638.88,241.8 639.13,241.8 639.39,241.8 639.64,241.8 639.9,241.8 640.15,241.8 640.4,241.8 640.66,241.8 640.91,241.8 641.17,241.8 641.42,241.8 641.67,241.8 641.93,241.8 642.18,241.8 642.44,241.8 642.69,241.8 642.94,241.8 643.2,241.8 643.45,241.8 643.71,241.8 643.96,241.8 644.21,241.8 644.47,241.8 644.72,241.8 644.98,241.8 645.23,241.8 645.48,241.8 645.74,241.8 645.99,241.8 646.25,241.8 646.5,241.8"/>
<polyline fill="none" stroke="#5a9a50" stroke-width="1.0" stroke-linejoin="round" points="570.3,241.8 570.55,241.8 570.81,241.8 571.06,241.8 571.32,241.8 571.57,241.8 571.82,241.8 572.08,241.8 572.33,241.8 572.59,241.8 572.84,241.8 573.09,241.8 573.35,241.8 573.6,241.8 573.86,241.8 574.11,241.8 574.36,241.8 574.62,241.8 574.87,241.8 575.13,241.8 575.38,241.8 575.63,241.8 575.89,241.8 576.14,241.8 576.4,241.8 576.65,241.8 576.9,241.8 577.16,241.8 577.41,241.8 577.67,241.8 577.92,241.8 578.17,241.8 578.43,241.8 578.68,241.8 578.94,241.8 579.19,241.8 579.44,241.8 579.7,241.8 579.95,241.8 580.21,241.8 580.46,241.8 580.71,241.8 580.97,241.8 581.22,241.8 581.48,241.8 581.73,241.8 581.98,241.8 582.24,241.8 582.49,241.8 582.75,241.8 583,241.8 583.25,241.8 583.51,241.8 583.76,241.8 584.02,241.8 584.27,241.8 584.52,241.8 584.78,241.8 585.03,241.8 585.29,241.8 585.54,241.8 585.79,241.8 586.05,241.8 586.3,241.8 586.56,241.8 586.81,241.8 587.06,241.8 587.32,241.8 587.57,241.8 587.83,241.8 588.08,241.8 588.33,241.8 588.59,241.8 588.84,241.8 589.1,241.8 589.35,241.8 589.6,241.8 589.86,241.8 590.11,241.8 590.37,241.8 590.62,241.8 590.87,241.8 591.13,241.8 591.38,241.8 591.64,241.79 591.89,241.79 592.14,241.79 592.4,241.78 592.65,241.78 592.91,241.77 593.16,241.75 593.41,241.74 593.67,241.72 593.92,241.69 594.18,241.65 594.43,241.6 594.68,241.54 594.94,241.46 595.19,241.36 595.45,241.23 595.7,241.07 595.95,240.87 596.21,240.62 596.46,240.32 596.72,239.94 596.97,239.49 597.22,238.94 597.48,238.28 597.73,237.5 597.99,236.57 598.24,235.48 598.49,234.21 598.75,232.74 599,231.04 599.26,229.1 599.51,226.9 599.76,224.42 600.02,221.65 600.27,218.58 600.53,215.19 600.78,211.49 601.03,207.48 601.29,203.17 601.54,198.58 601.8,193.72 602.05,188.63 602.3,183.35 602.56,177.93 602.81,172.41 603.07,166.86 603.32,161.35 603.57,155.94 603.83,150.7 604.08,145.72 604.34,141.06 604.59,136.8 604.84,133.01 605.1,129.74 605.35,127.06 605.61,125 605.86,123.61 606.11,122.91 606.37,122.91 606.62,123.61 606.88,125 607.13,127.06 607.38,129.74 607.64,133.01 607.89,136.8 608.15,141.06 608.4,145.72 608.65,150.7 608.91,155.94 609.16,161.35 609.42,166.86 609.67,172.41 609.92,177.93 610.18,183.35 610.43,188.63 610.69,193.72 610.94,198.58 611.19,203.17 611.45,207.48 611.7,211.49 611.96,215.19 612.21,218.58 612.46,221.65 612.72,224.42 612.97,226.9 613.23,229.1 613.48,231.04 613.73,232.74 613.99,234.21 614.24,235.48 614.5,236.57 614.75,237.5 615,238.28 615.26,238.94 615.51,239.49 615.77,239.94 616.02,240.32 616.27,240.62 616.53,240.87 616.78,241.07 617.04,241.23 617.29,241.36 617.54,241.46 617.8,241.54 618.05,241.6 618.31,241.65 618.56,241.69 618.81,241.72 619.07,241.74 619.32,241.75 619.58,241.77 619.83,241.78 620.08,241.78 620.34,241.79 620.59,241.79 620.85,241.79 621.1,241.8 621.35,241.8 621.61,241.8 621.86,241.8 622.12,241.8 622.37,241.8 622.62,241.8 622.88,241.8 623.13,241.8 623.39,241.8 623.64,241.8 623.89,241.8 624.15,241.8 624.4,241.8 624.66,241.8 624.91,241.8 625.16,241.8 625.42,241.8 625.67,241.8 625.93,241.8 626.18,241.8 626.43,241.8 626.69,241.8 626.94,241.8 627.2,241.8 627.45,241.8 627.7,241.8 627.96,241.8 628.21,241.8 628.47,241.8 628.72,241.8 628.97,241.8 629.23,241.8 629.48,241.8 629.74,241.8 629.99,241.8 630.24,241.8 630.5,241.8 630.75,241.8 631.01,241.8 631.26,241.8 631.51,241.8 631.77,241.8 632.02,241.8 632.28,241.8 632.53,241.8 632.78,241.8 633.04,241.8 633.29,241.8 633.55,241.8 633.8,241.8 634.05,241.8 634.31,241.8 634.56,241.8 634.82,241.8 635.07,241.8 635.32,241.8 635.58,241.8 635.83,241.8 636.09,241.8 636.34,241.8 636.59,241.8 636.85,241.8 637.1,241.8 637.36,241.8 637.61,241.8 637.86,241.8 638.12,241.8 638.37,241.8 638.63,241.8 638.88,241.8 639.13,241.8 639.39,241.8 639.64,241.8 639.9,241.8 640.15,241.8 640.4,241.8 640.66,241.8 640.91,241.8 641.17,241.8 641.42,241.8 641.67,241.8 641.93,241.8 642.18,241.8 642.44,241.8 642.69,241.8 642.94,241.8 643.2,241.8 643.45,241.8 643.71,241.8 643.96,241.8 644.21,241.8 644.47,241.8 644.72,241.8 644.98,241.8 645.23,241.8 645.48,241.8 645.74,241.8 645.99,241.8 646.25,241.8 646.5,241.8"/>
<polyline fill="none" stroke="#2a2ae6" stroke-width="1.2" stroke-linejoin="round" points="560,241.8 590,241.8 594,237 597,218 599,199 600.5,176 601.5,153 603,150.5 605.5,157.5 607.3,148 608.3,110 609.3,88.5 611,88.5 611.8,115 612.4,170 613.6,192 614.9,200.3 615.6,214 617.9,238 621,241.8 710,241.8"/>
</g>
<rect x="456.0" y="30.0" width="254.29999999999995" height="211.7" fill="none" stroke="#222" stroke-width="1.5"/>
<line x1="455.3" y1="241.89999999999998" x2="710.3" y2="241.89999999999998" stroke="#1c2d55" stroke-width="1.9"/>
<path d="M456 30.0v5.2 M456 241.7v-5.2 M468.7 30.0v3.2 M468.7 241.7v-3.2 M481.4 30.0v3.2 M481.4 241.7v-3.2 M494.1 30.0v3.2 M494.1 241.7v-3.2 M506.8 30.0v3.2 M506.8 241.7v-3.2 M519.5 30.0v5.2 M519.5 241.7v-5.2 M532.2 30.0v3.2 M532.2 241.7v-3.2 M544.9 30.0v3.2 M544.9 241.7v-3.2 M557.6 30.0v3.2 M557.6 241.7v-3.2 M570.3 30.0v3.2 M570.3 241.7v-3.2 M583 30.0v5.2 M583 241.7v-5.2 M595.7 30.0v3.2 M595.7 241.7v-3.2 M608.4 30.0v3.2 M608.4 241.7v-3.2 M621.1 30.0v3.2 M621.1 241.7v-3.2 M633.8 30.0v3.2 M633.8 241.7v-3.2 M646.5 30.0v5.2 M646.5 241.7v-5.2 M659.2 30.0v3.2 M659.2 241.7v-3.2 M671.9 30.0v3.2 M671.9 241.7v-3.2 M684.6 30.0v3.2 M684.6 241.7v-3.2 M697.3 30.0v3.2 M697.3 241.7v-3.2 M710 30.0v5.2 M710 241.7v-5.2 M456.0 241.8h5.2 M710.3 241.8h-5.2 M456.0 230.02h3.2 M710.3 230.02h-3.2 M456.0 218.24h3.2 M710.3 218.24h-3.2 M456.0 206.46h3.2 M710.3 206.46h-3.2 M456.0 194.68h3.2 M710.3 194.68h-3.2 M456.0 182.9h5.2 M710.3 182.9h-5.2 M456.0 171.12h3.2 M710.3 171.12h-3.2 M456.0 159.34h3.2 M710.3 159.34h-3.2 M456.0 147.56h3.2 M710.3 147.56h-3.2 M456.0 135.78h3.2 M710.3 135.78h-3.2 M456.0 124h5.2 M710.3 124h-5.2 M456.0 112.22h3.2 M710.3 112.22h-3.2 M456.0 100.44h3.2 M710.3 100.44h-3.2 M456.0 88.66h3.2 M710.3 88.66h-3.2 M456.0 76.88h3.2 M710.3 76.88h-3.2 M456.0 65.1h5.2 M710.3 65.1h-5.2 M456.0 53.32h3.2 M710.3 53.32h-3.2 M456.0 41.54h3.2 M710.3 41.54h-3.2" stroke="#222" stroke-width="1.4" fill="none"/>
<text x="452" y="70" font-size="14.2" text-anchor="end" font-family="Liberation Sans, sans-serif" stroke="#000" stroke-width="0.18" >1.5</text>
<text x="452" y="129" font-size="14.2" text-anchor="end" font-family="Liberation Sans, sans-serif" stroke="#000" stroke-width="0.18" >1.0</text>
<text x="452" y="187.9" font-size="14.2" text-anchor="end" font-family="Liberation Sans, sans-serif" stroke="#000" stroke-width="0.18" >0.5</text>
<text x="452" y="241.9" font-size="14.2" text-anchor="end" font-family="Liberation Sans, sans-serif" stroke="#000" stroke-width="0.18" >0.0</text>
<text x="456" y="260.1" font-size="14.2" text-anchor="middle" font-family="Liberation Sans, sans-serif" stroke="#000" stroke-width="0.18" >0</text>
<text x="519.5" y="260.1" font-size="14.2" text-anchor="middle" font-family="Liberation Sans, sans-serif" stroke="#000" stroke-width="0.18" >5</text>
<text x="583" y="260.1" font-size="14.2" text-anchor="middle" font-family="Liberation Sans, sans-serif" stroke="#000" stroke-width="0.18" >10</text>
<text x="646.5" y="260.1" font-size="14.2" text-anchor="middle" font-family="Liberation Sans, sans-serif" stroke="#000" stroke-width="0.18" >15</text>
<text x="710" y="260.1" font-size="14.2" text-anchor="middle" font-family="Liberation Sans, sans-serif" stroke="#000" stroke-width="0.18" >20</text>
<text x="583.2" y="276.2" font-size="14.6" text-anchor="middle" font-family="Liberation Sans, sans-serif" stroke="#000" stroke-width="0.18" >Redshift</text>
<line x1="478" y1="45.7" x2="493.2" y2="45.7" stroke="#5283cb" stroke-width="1.05"/>
<text x="508.9" y="52.1" font-size="11.45" text-anchor="start" font-family="Liberation Sans, sans-serif" stroke="#000" stroke-width="0.12" >EAZY</text>
<line x1="478" y1="61.6" x2="493.2" y2="61.6" stroke="#7068c0" stroke-width="1.05"/>
<text x="508.9" y="68" font-size="11.45" font-family="Liberation Sans, sans-serif" stroke="#000" stroke-width="0.12">EAZY<tspan font-size="7.3" dy="3" stroke-width="0.05">No HST</tspan></text>
<line x1="478" y1="77.5" x2="493.2" y2="77.5" stroke="#e8262a" stroke-width="1.05"/>
<text x="508.9" y="83.9" font-size="11.45" text-anchor="start" font-family="Liberation Sans, sans-serif" stroke="#000" stroke-width="0.12" >Prospector</text>
<line x1="478" y1="93.4" x2="493.2" y2="93.4" stroke="#111" stroke-width="1.05"/>
<text x="508.9" y="99.8" font-size="11.45" text-anchor="start" font-family="Liberation Sans, sans-serif" stroke="#000" stroke-width="0.12" >BAGPIPES</text>
<line x1="478" y1="109.3" x2="493.2" y2="109.3" stroke="#5a9a50" stroke-width="1.05"/>
<text x="508.9" y="115.7" font-size="11.45" text-anchor="start" font-family="Liberation Sans, sans-serif" stroke="#000" stroke-width="0.12" >Cigale</text>
<line x1="478" y1="125.2" x2="493.2" y2="125.2" stroke="#2a2ae6" stroke-width="1.05"/>
<text x="508.9" y="131.6" font-size="11.45" text-anchor="start" font-family="Liberation Sans, sans-serif" stroke="#000" stroke-width="0.12" >Dense Basis</text>
</svg>
</body></html>
